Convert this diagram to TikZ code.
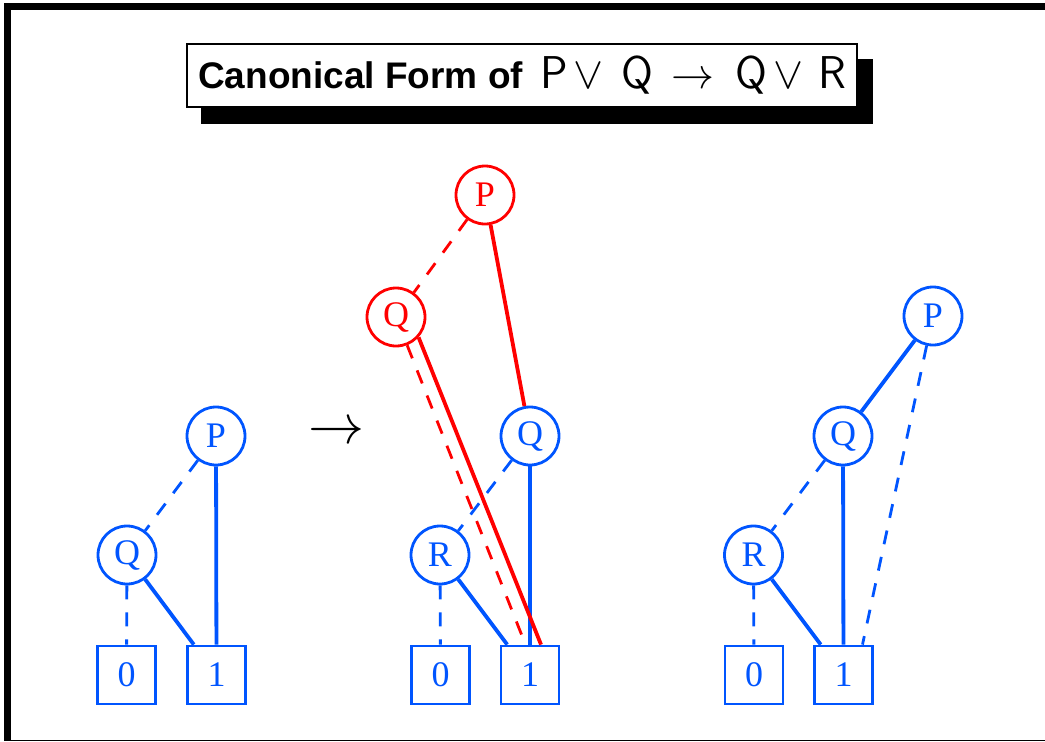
\documentclass[tikz,border=0pt]{standalone}
\usepackage{graphicx}
\usepackage{fontspec}
\newfontfamily\titlefont{Liberation Sans}
\newfontfamily\nodefont{Liberation Serif}
\usetikzlibrary{calc}
\definecolor{bddblue}{RGB}{0,85,255}
\definecolor{bddred}{RGB}{255,0,0}
\tikzset{
  vnode/.style={circle, draw, line width=2.8pt, minimum size=58pt, inner sep=0pt, fill=white,
    font=\nodefont\fontsize{36}{40}\selectfont},
  tnode/.style={rectangle, draw, line width=2.8pt, minimum size=58pt, inner sep=0pt, fill=white,
    font=\nodefont\fontsize{36}{40}\selectfont},
  bluec/.style={draw=bddblue, text=bddblue},
  redc/.style={draw=bddred, text=bddred},
  hiedge/.style={line width=3.8pt},
  loedge/.style={line width=2.8pt, dash pattern=on 14pt off 13pt},
  tpart/.style={anchor=base, inner sep=0pt, font=\sffamily\fontsize{46}{50}\selectfont},
}
\newcommand{\orsym}{\resizebox{30pt}{!}{$\vee$}}
\newcommand{\tosym}{\resizebox{43pt}{!}{$\rightarrow$}}
\begin{document}
\begin{tikzpicture}[x=1pt,y=-1pt]
\useasboundingbox (0,0) rectangle (1045,742);
% frame
\fill[black] (4,3) rectangle (1045,10);
\fill[black] (4,3) rectangle (11,741);
\draw[line width=1.2pt] (11,740.5) -- (1045,740.5);
% title
\fill[black] (201,59) rectangle (873,124);
\node[draw, line width=2pt, fill=white, minimum width=670pt, minimum height=63pt, inner sep=0pt]
  (titlebox) at (522,75.5) {};
\node[anchor=base west, inner sep=0pt, font=\titlefont\bfseries\fontsize{37}{40}\selectfont]
  (titletext) at (198,88) {Canonical Form of};
\node[tpart] (tP) at (554,88) {P};
\node[tpart] (tor1) at (588,88) {\orsym};
\node[tpart] (tQ1) at (637.5,88) {Q};
\node[tpart] (tto) at (692.5,88) {\tosym};
\node[tpart] (tQ2) at (751,88) {Q};
\node[tpart] (tor2) at (788,88) {\orsym};
\node[tpart] (tR) at (832,88) {R};
% arrow
\node[inner sep=0pt] (arr) at (336,433) {\resizebox{56pt}{!}{$\rightarrow$}};
% left tree
\node[vnode, bluec] (lP) at (216,436) {P};
\node[vnode, bluec] (lQ) at (127,555) {Q};
\node[tnode, bluec] (l0) at (126.5,675) {0};
\node[tnode, bluec] (l1) at (216.5,675) {1};
\draw[bddblue, loedge] (lP) -- (lQ);
\draw[bddblue, hiedge] (lP) -- (l1);
\draw[bddblue, loedge] (lQ) -- (l0);
\draw[bddblue, hiedge] (lQ) -- (l1);
% middle tree
\node[vnode, redc] (mP) at (485,195) {P};
\node[vnode, redc] (mQr) at (396,317) {Q};
\node[vnode, bluec] (mQ) at (530,436) {Q};
\node[vnode, bluec] (mR) at (440,555) {R};
\node[tnode, bluec] (m0) at (440.5,675) {0};
\node[tnode, bluec] (m1) at (530,675) {1};
\coordinate (m1d) at ($(m1.north)+(-4.5,0)$);
\coordinate (m1s) at ($(m1.north)+(11,0)$);
\draw[bddblue, loedge] (mQ) -- (mR);
\draw[bddblue, hiedge] (mQ) -- (m1);
\draw[bddblue, loedge] (mR) -- (m0);
\draw[bddblue, hiedge] (mR) -- (m1);
\draw[bddred, loedge] (mP) -- (mQr);
\draw[bddred, hiedge] (mP) -- (mQ);
\draw[bddred, loedge] (mQr) -- (m1d);
\draw[bddred, hiedge] (mQr.-42) -- (m1s);
% right tree
\node[vnode, bluec] (rP) at (933,316) {P};
\node[vnode, bluec] (rQ) at (843,436) {Q};
\node[vnode, bluec] (rR) at (753.5,555) {R};
\node[tnode, bluec] (r0) at (754,675) {0};
\node[tnode, bluec] (r1) at (843.5,675) {1};
\coordinate (r1d) at ($(r1.north)+(19,0)$);
\draw[bddblue, hiedge] (rP) -- (rQ);
\draw[bddblue, loedge] (rP) -- (r1d);
\draw[bddblue, loedge] (rQ) -- (rR);
\draw[bddblue, hiedge] (rQ) -- (r1);
\draw[bddblue, loedge] (rR) -- (r0);
\draw[bddblue, hiedge] (rR) -- (r1);
\end{tikzpicture}
\end{document}
